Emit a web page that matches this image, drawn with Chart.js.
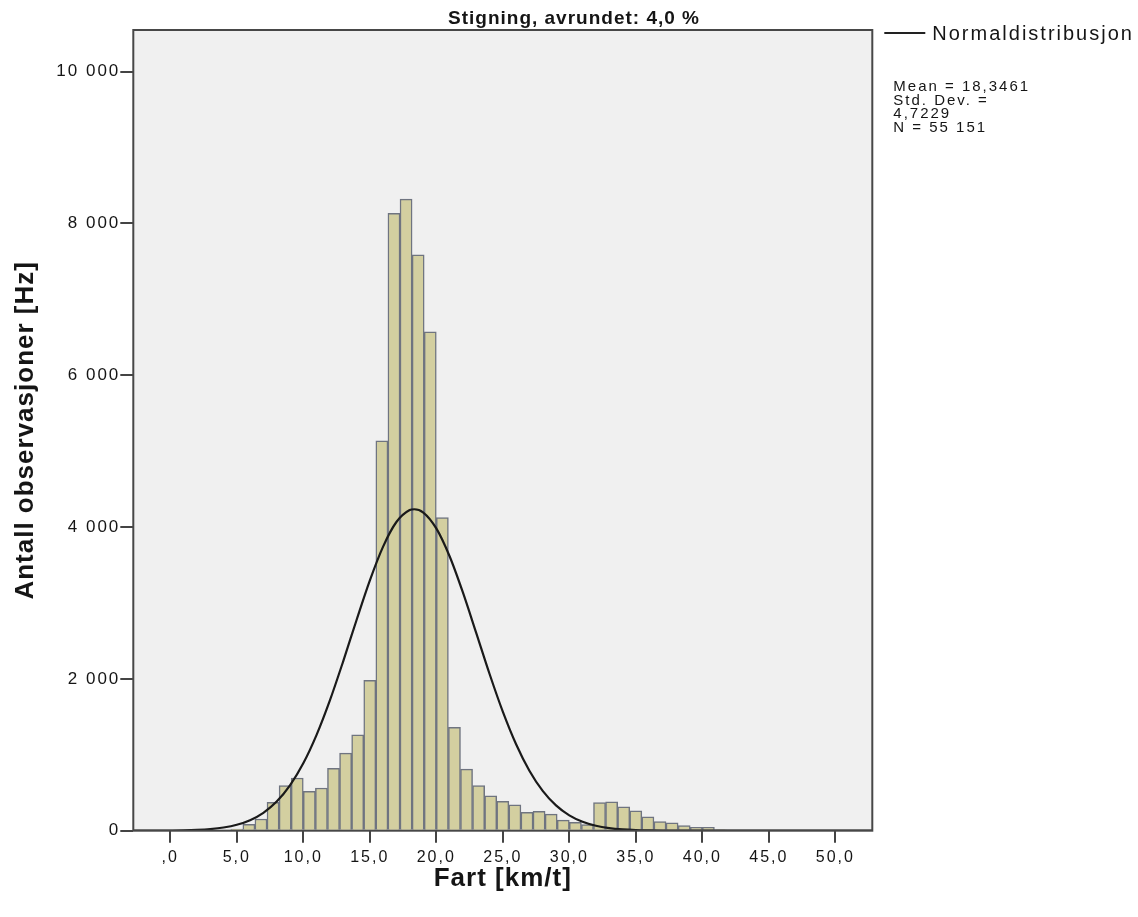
<!DOCTYPE html>
<html>
<head>
<meta charset="utf-8">
<script src="https://cdn.jsdelivr.net/npm/chart.js@4.4.1/dist/chart.umd.min.js"></script>
<style>
html, body { margin: 0; padding: 0; background: #ffffff; }
canvas { display: block; }
</style>
</head>
<body>
<canvas id="c" width="1138" height="917"></canvas>
<script>
// ---- text ----
const chartTitle = 'Stigning, avrundet: 4,0 %';
const xAxisTitle = 'Fart [km/t]';
const yAxisTitle = 'Antall observasjoner [Hz]';
const curveLabel = 'Normaldistribusjon';
const barLabel = 'Fart [km/t]';
const statsLines = ['Mean = 18,3461', 'Std. Dev. =', '4,7229', 'N = 55 151'];

// ---- histogram bins (centre of each bin, km/t) and counts ----
const binCenters = [5.000, 5.909, 6.818, 7.727, 8.636, 9.545, 10.455, 11.364, 12.273, 13.182,
  14.091, 15.000, 15.909, 16.818, 17.727, 18.636, 19.545, 20.455, 21.364, 22.273,
  23.182, 24.091, 25.000, 25.909, 26.818, 27.727, 28.636, 29.545, 30.455, 31.364,
  32.273, 33.182, 34.091, 35.000, 35.909, 36.818, 37.727, 38.636, 39.545, 40.455, 41.364];
const binCounts = [20, 85, 154, 373, 593, 694, 518, 562, 821, 1023,
  1264, 1980, 5136, 8135, 8320, 7586, 6572, 4126, 1361, 812,
  593, 461, 386, 342, 241, 255, 219, 140, 110, 79,
  369, 382, 316, 263, 184, 119, 105, 66, 44, 44, 12];

// ---- normal curve ----
const curveX = [-3, -2, -1, 0, 1, 2, 3, 4, 5, 6, 7, 8, 9, 10, 11, 12, 13, 14, 15, 16, 17, 18, 18.35, 19,
  20, 21, 22, 23, 24, 25, 26, 27, 28, 29, 30, 31, 32, 33, 34, 35, 36, 37, 38, 40, 45, 50, 53];
const curveY = [0, 0, 0, 2, 5, 11, 22, 42, 78, 139, 236, 384, 598, 888, 1263, 1717, 2232, 2773, 3295, 3743, 4067, 4224, 4235, 4195,
  3983, 3616, 3139, 2606, 2068, 1569, 1139, 790, 524, 333, 202, 117, 65, 34, 17, 8, 4, 2, 1, 0, 0, 0, 0];

// ---- ticks ----
const xTickValues = [0, 5, 10, 15, 20, 25, 30, 35, 40, 45, 50];
const xTickLabels = [',0', '5,0', '10,0', '15,0', '20,0', '25,0', '30,0', '35,0', '40,0', '45,0', '50,0'];
const yTickValues = [0, 2000, 4000, 6000, 8000, 10000];
const yTickLabels = ['0', '2 000', '4 000', '6 000', '8 000', '10 000'];

Chart.defaults.font.family = "'Liberation Sans', Arial, Helvetica, sans-serif";
Chart.defaults.color = '#151515';

const TITLE_SPACING = '1px';
const TICK_SPACING = '2px';
const SIDE_SPACING = '2px';

const spssPlugin = {
  id: 'spssLook',
  beforeDraw(chart) {
    const { ctx, chartArea: a } = chart;
    ctx.save();
    ctx.fillStyle = '#f0f0f0';
    ctx.fillRect(a.left, a.top, a.right - a.left, a.bottom - a.top);
    ctx.restore();
    ctx.letterSpacing = TITLE_SPACING;
  },
  afterDatasetsDraw(chart) {
    const { ctx, chartArea: a } = chart;
    ctx.save();
    ctx.strokeStyle = '#474747';
    ctx.lineWidth = 2;
    ctx.strokeRect(a.left, a.top, a.right - a.left, a.bottom - a.top);
    ctx.restore();
    ctx.letterSpacing = TICK_SPACING;
  },
  afterDraw(chart) {
    const { ctx, chartArea: a } = chart;
    ctx.save();
    ctx.letterSpacing = SIDE_SPACING;
    // legend line sample
    ctx.strokeStyle = '#222222';
    ctx.lineWidth = 2;
    ctx.beginPath();
    ctx.moveTo(a.right + 12, 33);
    ctx.lineTo(a.right + 53, 33);
    ctx.stroke();
    ctx.fillStyle = '#151515';
    ctx.textBaseline = 'middle';
    ctx.textAlign = 'left';
    ctx.font = "20px 'Liberation Sans', Arial, sans-serif";
    ctx.fillText(curveLabel, a.right + 60, 34.5);
    // statistics block
    ctx.font = "15px 'Liberation Sans', Arial, sans-serif";
    statsLines.forEach((t, i) => ctx.fillText(t, a.right + 21, 87 + i * 13.6));
    ctx.restore();
  }
};

new Chart(document.getElementById('c'), {
  type: 'bar',
  data: {
    datasets: [
      {
        type: 'line',
        label: curveLabel,
        data: curveX.map((x, i) => ({ x: x, y: curveY[i] })),
        borderColor: '#1a1a1a',
        borderWidth: 2.2,
        pointRadius: 0,
        fill: false,
        cubicInterpolationMode: 'monotone',
        order: 0
      },
      {
        type: 'bar',
        label: barLabel,
        data: binCenters.map((x, i) => ({ x: x, y: binCounts[i] })),
        backgroundColor: '#d3cfa0',
        borderColor: '#6f7480',
        borderWidth: 1.5,
        barPercentage: 1,
        categoryPercentage: 1,
        order: 1
      }
    ]
  },
  options: {
    responsive: false,
    animation: false,
    layout: { padding: { left: 10, right: 0, top: 0, bottom: 0 } },
    plugins: {
      legend: { display: false },
      tooltip: { enabled: false },
      title: {
        display: true,
        text: chartTitle,
        font: { size: 19, weight: 'bold' },
        color: '#151515',
        padding: { top: 7, bottom: 0.2 }
      }
    },
    scales: {
      x: {
        type: 'linear',
        min: -2.78,
        max: 52.78,
        offset: false,
        afterBuildTicks: s => { s.ticks = xTickValues.map(v => ({ value: v })); },
        afterFit: s => { s.height = 86.3; },
        ticks: {
          callback: v => xTickLabels[xTickValues.indexOf(v)],
          font: { size: 16 },
          padding: 5,
          autoSkip: false,
          maxRotation: 0,
          z: 1
        },
        grid: { drawOnChartArea: false, drawTicks: true, tickLength: 12, offset: false, color: '#444444', lineWidth: 2 },
        border: { display: false },
        title: { display: true, text: xAxisTitle, font: { size: 26, weight: 'bold' }, padding: { top: 0, bottom: 22.8 } }
      },
      y: {
        type: 'linear',
        min: 0,
        max: 10549,
        afterBuildTicks: s => { s.ticks = yTickValues.map(v => ({ value: v })); },
        afterFit: s => { s.width = 123.3; },
        ticks: {
          callback: v => yTickLabels[yTickValues.indexOf(v)],
          font: { size: 17 },
          padding: 0,
          z: 1
        },
        grid: { drawOnChartArea: false, drawTicks: true, tickLength: 13, color: '#444444', lineWidth: 2 },
        border: { display: false },
        title: { display: true, text: yAxisTitle, font: { size: 26, weight: 'bold' }, padding: { top: 0, bottom: 0 } }
      },
      side: {
        type: 'linear',
        position: 'right',
        display: true,
        afterFit: s => { s.width = 265.7; },
        ticks: { display: false },
        grid: { display: false },
        border: { display: false },
        title: { display: false }
      }
    }
  },
  plugins: [spssPlugin]
});
</script>
</body>
</html>
